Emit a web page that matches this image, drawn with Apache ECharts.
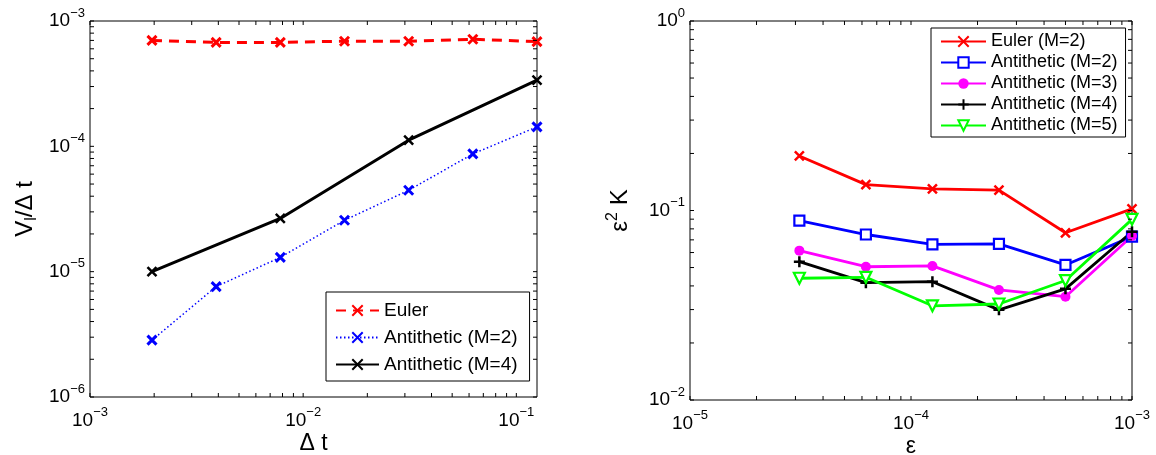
<!DOCTYPE html>
<html>
<head>
<meta charset="utf-8">
<script src="https://cdn.jsdelivr.net/npm/echarts@6/dist/echarts.min.js"></script>
<style>
  html, body { margin: 0; padding: 0; background: #fff; }
  #chart { width: 1156px; height: 455px; }
</style>
</head>
<body>
<div id="chart"></div>
<script>
// left panel: V_l / dt against dt
var dtValues = [0.001953125, 0.00390625, 0.0078125, 0.015625, 0.03125, 0.0625, 0.125];
var eulerVar = [7.0e-4, 6.75e-4, 6.75e-4, 6.9e-4, 6.9e-4, 7.15e-4, 6.85e-4];
var anti2Var = [2.84e-6, 7.6e-6, 1.3e-5, 2.57e-5, 4.46e-5, 8.7e-5, 1.43e-4];
var dtM4 = [0.001953125, 0.0078125, 0.03125, 0.125];
var anti4Var = [1.0e-5, 2.66e-5, 1.12e-4, 3.38e-4];

// right panel: eps^2 K against eps
var epsValues = [3.125e-5, 6.25e-5, 1.25e-4, 2.5e-4, 5e-4, 1e-3];
var costEuler2 = [0.194, 0.137, 0.130, 0.128, 0.0763, 0.102];
var costAnti2 = [0.0884, 0.0747, 0.0663, 0.0666, 0.0516, 0.0728];
var costAnti3 = [0.0614, 0.0505, 0.051, 0.0381, 0.0351, 0.0733];
var costAnti4 = [0.0537, 0.0416, 0.0421, 0.0299, 0.0386, 0.0773];
var costAnti5 = [0.0439, 0.0444, 0.0314, 0.0321, 0.0427, 0.0898];

// axis ranges
var leftX = [0.001, 0.125], leftY = [1e-6, 1e-3];
var rightX = [1e-5, 1e-3], rightY = [1e-2, 1];

var FONT = "'Liberation Sans', Arial, Helvetica, sans-serif";
var TICK = 4;

function pairs(xs, ys) {
    return xs.map(function (x, i) { return [x, ys[i]]; });
}

// 10^k labels, nothing for the 0.125 end label
function powLabel(v) {
    var e = Math.log10(v), r = Math.round(e);
    if (Math.abs(e - r) > 1e-6) return '';
    return '{b|10}{s|' + (r < 0 ? '\u2212' + (-r) : r) + '}';
}

// 1..9 x 10^k inside [lo, hi]
function logTicks(lo, hi) {
    var out = [];
    for (var k = Math.floor(Math.log10(lo)); k <= Math.ceil(Math.log10(hi)); k++) {
        for (var m = 1; m < 10; m++) {
            var v = m * Math.pow(10, k);
            if (v >= lo * (1 - 1e-9) && v <= hi * (1 + 1e-9)) out.push(v);
        }
    }
    return out;
}

var tickStyle = { stroke: '#000', lineWidth: 1 };

function xTickItem(params, api) {
    var cs = params.coordSys;
    var x = api.coord([api.value(0), api.value(1)])[0];
    var b = cs.y + cs.height;
    return { type: 'group', children: [
        { type: 'line', shape: { x1: x, y1: b, x2: x, y2: b - TICK }, style: tickStyle },
        { type: 'line', shape: { x1: x, y1: cs.y, x2: x, y2: cs.y + TICK }, style: tickStyle }
    ]};
}

function yTickItem(params, api) {
    var cs = params.coordSys;
    var y = api.coord([api.value(0), api.value(1)])[1];
    var r = cs.x + cs.width;
    return { type: 'group', children: [
        { type: 'line', shape: { x1: cs.x, y1: y, x2: cs.x + TICK, y2: y }, style: tickStyle },
        { type: 'line', shape: { x1: r, y1: y, x2: r - TICK, y2: y }, style: tickStyle }
    ]};
}

function tickSeries(idx, xr, yr) {
    return [{
        type: 'custom', xAxisIndex: idx, yAxisIndex: idx, silent: true, z: 10,
        renderItem: xTickItem,
        data: logTicks(xr[0], xr[1]).map(function (v) { return [v, yr[0]]; })
    }, {
        type: 'custom', xAxisIndex: idx, yAxisIndex: idx, silent: true, z: 10,
        renderItem: yTickItem,
        data: logTicks(yr[0], yr[1]).map(function (v) { return [xr[0], v]; })
    }];
}

var labelRich = {
    b: { fontSize: 19, lineHeight: 29, fontFamily: FONT, color: '#000' },
    s: { fontSize: 13, lineHeight: 13, verticalAlign: 'top', fontFamily: FONT, color: '#000' }
};

function logAxis(idx, range, margin, name, nameGap, nameRich) {
    return {
        type: 'log', logBase: 10, gridIndex: idx, min: range[0], max: range[1],
        axisLine: { show: false }, axisTick: { show: false }, splitLine: { show: false },
        axisLabel: { formatter: powLabel, margin: margin, rich: labelRich },
        name: name, nameLocation: 'middle', nameGap: nameGap, nameMoveOverlap: false,
        nameTextStyle: { fontSize: 23, fontFamily: FONT, color: '#000', rich: nameRich || {} }
    };
}

var xPath = 'path://M0,0L10,10M10,0L0,10';
var plusPath = 'path://M5,0L5,10M0,5L10,5';
var downTri = 'path://M0,0L10,0L5,9Z';

var RED = '#ff0000', BLUE = '#0000ff', MAG = '#ff00ff', GREEN = '#00ff00';

var chart = echarts.init(document.getElementById('chart'));
chart.setOption({
    animation: false,
    backgroundColor: '#fff',
    grid: [
        { left: 90, top: 21, width: 447, height: 376, outerBoundsMode: 'none', show: true, borderColor: '#000', borderWidth: 1, backgroundColor: '#fff' },
        { left: 690, top: 21, width: 442, height: 379, outerBoundsMode: 'none', show: true, borderColor: '#000', borderWidth: 1, backgroundColor: '#fff' }
    ],
    xAxis: [
        logAxis(0, leftX, 9, 'Δ t', 35),
        logAxis(1, rightX, 9, 'ε', 35)
    ],
    yAxis: [
        logAxis(0, leftY, 5, '{n|V}{sub|l}{n|/Δ t}', 50, {
            n: { fontSize: 24, lineHeight: 30, fontFamily: FONT, color: '#000' },
            sub: { fontSize: 16, lineHeight: 15, verticalAlign: 'bottom', fontFamily: FONT, color: '#000' }
        }),
        logAxis(1, rightY, 5, '{n|ε}{sup|2}{n| K}', 55, {
            n: { fontSize: 24, lineHeight: 30, fontFamily: FONT, color: '#000' },
            sup: { fontSize: 16, lineHeight: 15, verticalAlign: 'top', fontFamily: FONT, color: '#000' }
        })
    ],
    legend: [{
        left: 326, top: 292, orient: 'vertical', selectedMode: false,
        itemWidth: 43, itemHeight: 13, itemGap: 0,
        padding: [5, 12, 3, 9], borderColor: '#000', borderWidth: 1, backgroundColor: '#fff',
        textStyle: { fontSize: 19, lineHeight: 27, fontFamily: FONT, color: '#000' },
        data: ['Euler', 'Antithetic (M=2)', 'Antithetic (M=4)']
    }, {
        left: 931, top: 28, orient: 'vertical', selectedMode: false,
        itemWidth: 45, itemHeight: 13, itemGap: 0,
        padding: [3, 8, 1, 9], borderColor: '#000', borderWidth: 1, backgroundColor: '#fff',
        textStyle: { fontSize: 18, lineHeight: 21, fontFamily: FONT, color: '#000' },
        formatter: function (n) { return n.replace(/^R /, ''); },
        data: ['R Euler (M=2)', 'R Antithetic (M=2)', 'R Antithetic (M=3)', 'R Antithetic (M=4)', 'R Antithetic (M=5)']
    }],
    series: [
        {
            name: 'Euler', type: 'line', xAxisIndex: 0, yAxisIndex: 0,
            data: pairs(dtValues, eulerVar),
            symbol: xPath, symbolSize: 9,
            lineStyle: { color: RED, width: 3, type: [10, 7] },
            itemStyle: { color: RED, borderColor: RED, borderWidth: 3 }
        },
        {
            name: 'Antithetic (M=2)', type: 'line', xAxisIndex: 0, yAxisIndex: 0,
            data: pairs(dtValues, anti2Var),
            symbol: xPath, symbolSize: 9,
            lineStyle: { color: BLUE, width: 1.5, type: [1.5, 2.5] },
            itemStyle: { color: BLUE, borderColor: BLUE, borderWidth: 3 }
        },
        {
            name: 'Antithetic (M=4)', type: 'line', xAxisIndex: 0, yAxisIndex: 0,
            data: pairs(dtM4, anti4Var),
            symbol: xPath, symbolSize: 9,
            lineStyle: { color: '#000', width: 3 },
            itemStyle: { color: '#000', borderColor: '#000', borderWidth: 2.5 }
        },
        {
            name: 'R Euler (M=2)', type: 'line', xAxisIndex: 1, yAxisIndex: 1,
            data: pairs(epsValues, costEuler2),
            symbol: xPath, symbolSize: 9,
            lineStyle: { color: RED, width: 2.8 },
            itemStyle: { color: RED, borderColor: RED, borderWidth: 2.5 }
        },
        {
            name: 'R Antithetic (M=2)', type: 'line', xAxisIndex: 1, yAxisIndex: 1,
            data: pairs(epsValues, costAnti2),
            symbol: 'rect', symbolSize: 10,
            lineStyle: { color: BLUE, width: 2.8 },
            itemStyle: { color: '#fff', borderColor: BLUE, borderWidth: 2.2 }
        },
        {
            name: 'R Antithetic (M=3)', type: 'line', xAxisIndex: 1, yAxisIndex: 1,
            data: pairs(epsValues, costAnti3),
            symbol: 'circle', symbolSize: 10,
            lineStyle: { color: MAG, width: 2.8 },
            itemStyle: { color: MAG, borderColor: MAG, borderWidth: 0 }
        },
        {
            name: 'R Antithetic (M=4)', type: 'line', xAxisIndex: 1, yAxisIndex: 1,
            data: pairs(epsValues, costAnti4),
            symbol: plusPath, symbolSize: 11,
            lineStyle: { color: '#000', width: 2.8 },
            itemStyle: { color: '#000', borderColor: '#000', borderWidth: 2.5 }
        },
        {
            name: 'R Antithetic (M=5)', type: 'line', xAxisIndex: 1, yAxisIndex: 1,
            data: pairs(epsValues, costAnti5),
            symbol: downTri, symbolSize: 11,
            lineStyle: { color: GREEN, width: 2.8 },
            itemStyle: { color: '#fff', borderColor: GREEN, borderWidth: 2.2 }
        }
    ].concat(tickSeries(0, leftX, leftY), tickSeries(1, rightX, rightY))
});
</script>
</body>
</html>
